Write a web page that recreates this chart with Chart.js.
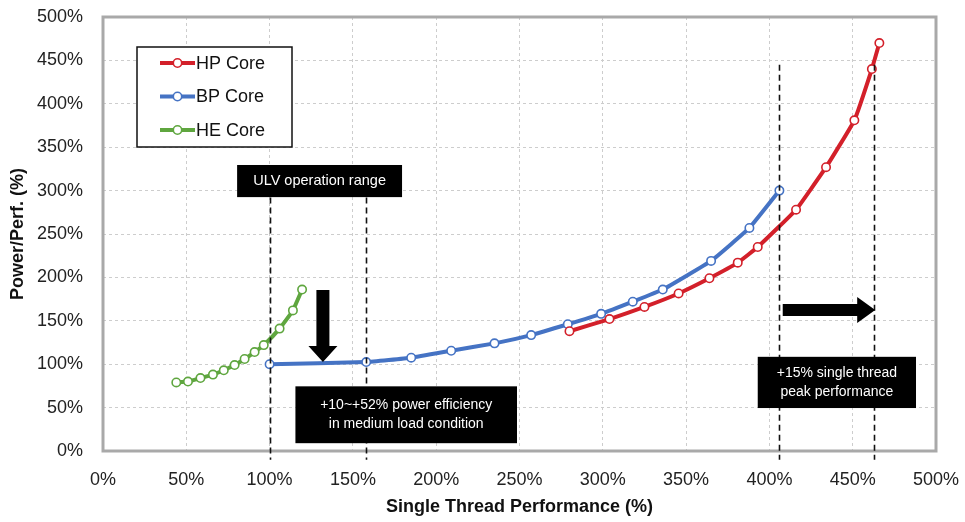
<!DOCTYPE html>
<html>
<head>
<meta charset="utf-8">
<title>Power/Perf. vs Single Thread Performance</title>
<script src="https://cdn.jsdelivr.net/npm/chart.js@4/dist/chart.umd.min.js"></script>
<style>
  html, body { margin: 0; padding: 0; background: #fff; }
  #wrap { width: 965px; height: 522px; position: relative; }
</style>
</head>
<body>
<div id="wrap"><canvas id="c" width="965" height="522"></canvas></div>
<script>
// ---- series (x: single thread performance %, y: power/perf. %) ----
const seriesNames = ['HP Core', 'BP Core', 'HE Core'];

const hpX = [280, 304, 325, 345.5, 364, 381, 393, 416, 434, 451, 461.5, 466];
const hpY = [138, 152, 166, 181.5, 199, 217, 235, 278, 327, 381, 440, 470];

const bpX = [100, 158, 185, 209, 235, 257, 279, 299, 318, 336, 365, 388, 406];
const bpY = [100, 102.5, 107.5, 115.5, 124, 133.5, 146, 158, 172, 186, 219, 257, 300];

const heX = [44, 51, 58.5, 66, 72.5, 79, 85, 91, 96.5, 106, 114, 119.5];
const heY = [79, 80, 84, 88, 93, 99, 106, 114, 122, 141, 162, 186];

// ---- axes ----
const xTicks = [0, 50, 100, 150, 200, 250, 300, 350, 400, 450, 500];
const yTicks = [0, 50, 100, 150, 200, 250, 300, 350, 400, 450, 500];
const xTitle = 'Single Thread Performance (%)';
const yTitle = 'Power/Perf. (%)';

// ---- call-outs ----
const ulvLinesX = [100, 158];
const peakLinesX = [406, 463];
const ulvText = ['ULV operation range'];
const effText = ['+10~+52% power efficiency', 'in medium load condition'];
const peakText = ['+15% single thread', 'peak performance'];

const colors = { hp: '#d3202a', bp: '#4573c4', he: '#5fa63f' };
const FONT = '"Liberation Sans", Arial, Helvetica, sans-serif';

const toPoints = (xs, ys) => xs.map((v, i) => ({ x: v, y: ys[i] }));

function makeSet(label, xs, ys, color) {
  return {
    label,
    data: toPoints(xs, ys),
    borderColor: color,
    backgroundColor: '#ffffff',
    borderWidth: 4,
    pointRadius: 4.2,
    pointBorderWidth: 1.6,
    pointBorderColor: color,
    pointBackgroundColor: '#ffffff',
    tension: 0.1,
    fill: false,
    clip: false
  };
}

// plot frame drawn over the grid
const frame = {
  id: 'frame',
  beforeDatasetsDraw(chart) {
    const { ctx, chartArea: a } = chart;
    ctx.save();
    ctx.strokeStyle = '#a9a9a9';
    ctx.lineWidth = 3;
    ctx.strokeRect(a.left, a.top, a.right - a.left, a.bottom - a.top);
    ctx.restore();
  }
};

function blackBox(ctx, x0, y0, x1, y1, lines, size) {
  ctx.fillStyle = '#000';
  ctx.fillRect(x0, y0, x1 - x0, y1 - y0);
  ctx.fillStyle = '#fff';
  ctx.font = size + 'px ' + FONT;
  ctx.textAlign = 'center';
  ctx.textBaseline = 'middle';
  const cx = (x0 + x1) / 2, cy = (y0 + y1) / 2;
  const lh = size * 1.32;
  lines.forEach((t, i) => {
    ctx.fillText(t, cx, cy + (i - (lines.length - 1) / 2) * lh);
  });
}

// dashed markers, arrows and text boxes
const notes = {
  id: 'notes',
  afterDatasetsDraw(chart) {
    const { ctx, scales: { x, y } } = chart;
    const px = v => x.getPixelForValue(v);
    const py = v => y.getPixelForValue(v);
    ctx.save();

    ctx.setLineDash([6, 4]);
    ctx.lineWidth = 1.6;
    ctx.strokeStyle = '#111';
    const vline = (xv, top, bot) => {
      ctx.beginPath();
      ctx.moveTo(Math.round(px(xv)) + 0.5, py(top));
      ctx.lineTo(Math.round(px(xv)) + 0.5, py(bot));
      ctx.stroke();
    };
    ulvLinesX.forEach(v => vline(v, 292, -10));
    peakLinesX.forEach(v => vline(v, 445, -10));
    ctx.setLineDash([]);

    // downward arrow
    {
      const cx = px(132), top = py(185.5), tip = py(102.5);
      const sw = 6.5, hw = 14.5, hh = 16;
      ctx.fillStyle = '#000';
      ctx.beginPath();
      ctx.moveTo(cx - sw, top);
      ctx.lineTo(cx + sw, top);
      ctx.lineTo(cx + sw, tip - hh);
      ctx.lineTo(cx + hw, tip - hh);
      ctx.lineTo(cx, tip);
      ctx.lineTo(cx - hw, tip - hh);
      ctx.lineTo(cx - sw, tip - hh);
      ctx.closePath();
      ctx.fill();
    }
    // rightward arrow
    {
      const cy = py(162.4), left = px(408), tip = px(463.5);
      const sw = 6, hw = 13, hl = 18;
      ctx.fillStyle = '#000';
      ctx.beginPath();
      ctx.moveTo(left, cy - sw);
      ctx.lineTo(tip - hl, cy - sw);
      ctx.lineTo(tip - hl, cy - hw);
      ctx.lineTo(tip, cy);
      ctx.lineTo(tip - hl, cy + hw);
      ctx.lineTo(tip - hl, cy + sw);
      ctx.lineTo(left, cy + sw);
      ctx.closePath();
      ctx.fill();
    }

    blackBox(ctx, px(80.5), py(329.5), px(179.5), py(292.5), ulvText, 14.5);
    blackBox(ctx, px(115.5), py(74.5), px(248.5), py(9), effText, 14);
    blackBox(ctx, px(393), py(108.5), px(488), py(49.5), peakText, 14);

    ctx.restore();
  }
};

// boxed legend inside the plot
const boxLegend = {
  id: 'boxLegend',
  afterDraw(chart) {
    const { ctx, chartArea: a } = chart;
    const x0 = a.left + 34, y0 = a.top + 30, w = 155, h = 100;
    ctx.save();
    ctx.fillStyle = '#fff';
    ctx.fillRect(x0, y0, w, h);
    ctx.strokeStyle = '#111';
    ctx.lineWidth = 1.5;
    ctx.strokeRect(x0, y0, w, h);
    ctx.font = '18px ' + FONT;
    ctx.textBaseline = 'middle';
    ctx.textAlign = 'left';
    chart.data.datasets.forEach((ds, i) => {
      const cy = y0 + 16 + i * 33.5;
      const lx = x0 + 23, rx = x0 + 58;
      ctx.strokeStyle = ds.borderColor;
      ctx.lineWidth = 4;
      ctx.beginPath();
      ctx.moveTo(lx, cy);
      ctx.lineTo(rx, cy);
      ctx.stroke();
      ctx.beginPath();
      ctx.arc((lx + rx) / 2, cy, 4.2, 0, Math.PI * 2);
      ctx.fillStyle = '#fff';
      ctx.fill();
      ctx.lineWidth = 1.6;
      ctx.stroke();
      ctx.fillStyle = '#111';
      ctx.fillText(ds.label, rx + 1, cy + 1);
    });
    ctx.restore();
  }
};

const gridStyle = {
  color: '#cdcdcd',
  lineWidth: 1,
  drawTicks: false
};

new Chart(document.getElementById('c'), {
  type: 'line',
  data: {
    datasets: [
      makeSet(seriesNames[0], hpX, hpY, colors.hp),
      makeSet(seriesNames[1], bpX, bpY, colors.bp),
      makeSet(seriesNames[2], heX, heY, colors.he)
    ]
  },
  options: {
    responsive: false,
    animation: false,
    devicePixelRatio: 1,
    layout: { padding: { left: 0, top: 17, right: 29, bottom: 0 } },
    plugins: { legend: { display: false }, tooltip: { enabled: false } },
    scales: {
      x: {
        type: 'linear',
        min: 0, max: 500,
        afterBuildTicks: s => { s.ticks = xTicks.map(v => ({ value: v })); },
        afterFit: s => { s.height = 71; s.paddingLeft = 0; s.paddingRight = 0; },
        grid: gridStyle,
        border: { display: false, dash: [3, 3] },
        ticks: {
          padding: 18,
          color: '#222',
          font: { family: FONT, size: 18 },
          maxRotation: 0,
          callback: v => v + '%'
        },
        title: {
          display: true, text: xTitle, color: '#111',
          font: { family: FONT, size: 18, weight: 'bold' },
          padding: { top: 0, bottom: 4 }
        }
      },
      y: {
        type: 'linear',
        min: 0, max: 500,
        afterBuildTicks: s => { s.ticks = yTicks.map(v => ({ value: v })); },
        afterFit: s => { s.width = 103; s.paddingTop = 0; s.paddingBottom = 0; },
        grid: gridStyle,
        border: { display: false, dash: [3, 3] },
        ticks: {
          padding: 20,
          color: '#222',
          font: { family: FONT, size: 18 },
          callback: v => v + '%'
        },
        title: {
          display: true, text: yTitle, color: '#111',
          font: { family: FONT, size: 18, weight: 'bold' },
          padding: { top: 7, bottom: 0 }
        }
      }
    }
  },
  plugins: [frame, notes, boxLegend]
});
</script>
</body>
</html>
